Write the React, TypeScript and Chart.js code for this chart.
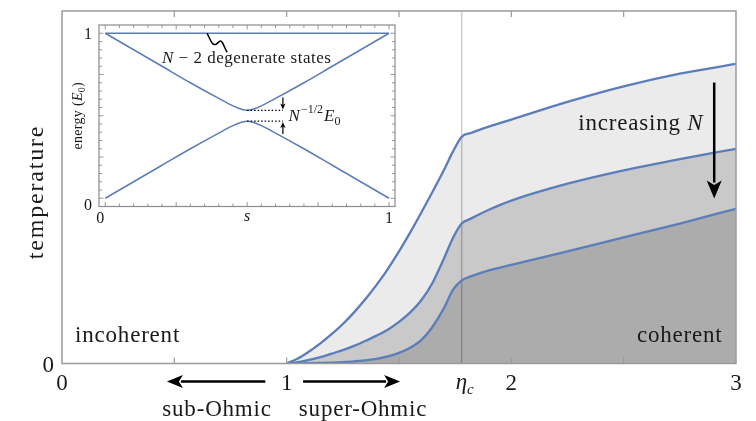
import React, { useEffect, useRef } from "react";
import { Chart, registerables } from "chart.js";
Chart.register(...registerables);

// ---------- main chart data ----------
const curveX = [1, 1.05, 1.1, 1.15, 1.2, 1.25, 1.3, 1.35, 1.4, 1.45, 1.5, 1.55, 1.6, 1.65, 1.7, 1.74, 1.779, 1.82, 1.9, 2.0, 2.25, 2.5, 2.75, 3.0];
const tempSmallN = [0, 0.014, 0.034, 0.057, 0.083, 0.112, 0.145, 0.182, 0.223, 0.268, 0.318, 0.372, 0.429, 0.488, 0.549, 0.601, 0.643, 0.654, 0.672, 0.692, 0.742, 0.786, 0.822, 0.85];
const tempMidN = [0, 0.004, 0.01, 0.018, 0.028, 0.038, 0.05, 0.064, 0.079, 0.096, 0.118, 0.145, 0.18, 0.23, 0.298, 0.356, 0.397, 0.411, 0.436, 0.462, 0.51, 0.548, 0.58, 0.609];
const tempLargeN = [0, 0.0003, 0.0008, 0.0015, 0.0025, 0.004, 0.006, 0.009, 0.013, 0.02, 0.03, 0.045, 0.067, 0.105, 0.157, 0.209, 0.236, 0.247, 0.264, 0.28, 0.318, 0.358, 0.397, 0.439];
const fillColors = ["#acacac", "#c9c9c9", "#ebebeb"];
const xTickMarks = [0.5, 1, 1.5, 2, 2.5];
const xTickLabels = ["0", "1", "2", "3"];
const xTickLabelValues = [0, 1, 2, 3];
const ETA_C = 1.779;

// ---------- inset data ----------
const insetS = [0, 0.1, 0.2, 0.3, 0.4, 0.45, 0.48, 0.5, 0.52, 0.55, 0.6, 0.7, 0.8, 0.9, 1];
const insetUpper = [1, 0.9, 0.8, 0.7, 0.605, 0.56, 0.539, 0.533, 0.539, 0.56, 0.605, 0.7, 0.8, 0.9, 1];
const insetLower = [0, 0.1, 0.2, 0.3, 0.395, 0.44, 0.461, 0.467, 0.461, 0.44, 0.395, 0.3, 0.2, 0.1, 0];
const insetFlatS = [0, 1];
const insetFlat = [1, 1];
const insetYTickLabels = ["0", "1"];
const insetXTickLabels = ["0", "1"];

const BLUE = "#5b7db9";
const SERIF = '"Liberation Serif", "Times New Roman", serif';
const TEXT = "#1a1a1a";

function font(size: number, italic = false) {
  return `${italic ? "italic " : ""}${size}px ${SERIF}`;
}

type Run = { t: string; size: number; italic?: boolean; dy?: number; gap?: number };

function drawRuns(ctx: CanvasRenderingContext2D, runs: Run[], x: number, y: number, align: "left" | "center" | "right" = "left", spacing = 0) {
  ctx.save();
  ctx.fillStyle = TEXT;
  ctx.textBaseline = "alphabetic";
  ctx.textAlign = "left";
  (ctx as any).letterSpacing = spacing + "px";
  let total = 0;
  const widths = runs.map((r) => {
    ctx.font = font(r.size, r.italic);
    const w = ctx.measureText(r.t).width + (r.gap || 0);
    total += w;
    return w;
  });
  let cx = align === "left" ? x : align === "center" ? x - total / 2 : x - total;
  runs.forEach((r, i) => {
    ctx.font = font(r.size, r.italic);
    ctx.fillText(r.t, cx, y + (r.dy || 0));
    cx += widths[i];
  });
  ctx.restore();
}

function arrow(ctx: CanvasRenderingContext2D, x1: number, y1: number, x2: number, y2: number, lw: number, headLen: number, headHalf: number) {
  const ang = Math.atan2(y2 - y1, x2 - x1);
  const c = Math.cos(ang), s = Math.sin(ang);
  const bx = x2 - headLen * c, by = y2 - headLen * s;
  ctx.save();
  ctx.strokeStyle = "#000";
  ctx.fillStyle = "#000";
  ctx.lineWidth = lw;
  ctx.beginPath();
  ctx.moveTo(x1, y1);
  ctx.lineTo(bx + 2 * c, by + 2 * s);
  ctx.stroke();
  const nx = x2 - headLen * 0.75 * c, ny = y2 - headLen * 0.75 * s;
  ctx.beginPath();
  ctx.moveTo(x2, y2);
  ctx.lineTo(bx - headHalf * s, by + headHalf * c);
  ctx.lineTo(nx, ny);
  ctx.lineTo(bx + headHalf * s, by - headHalf * c);
  ctx.closePath();
  ctx.fill();
  ctx.restore();
}

const mainDeco = {
  id: "mainDeco",
  beforeDatasetsDraw(chart: any) {
    const { ctx, chartArea: a, scales } = chart;
    const px = scales.x.getPixelForValue(ETA_C);
    ctx.save();
    ctx.strokeStyle = "rgba(0,0,0,0.2)";
    ctx.lineWidth = 1.5;
    ctx.beginPath();
    ctx.moveTo(px, a.top);
    ctx.lineTo(px, a.bottom);
    ctx.stroke();
    ctx.restore();
  },
  afterDatasetsDraw(chart: any) {
    const { ctx, chartArea: a, scales } = chart;
    const X = (v: number) => scales.x.getPixelForValue(v);
    const Y = (v: number) => scales.y.getPixelForValue(v);
    ctx.save();
    ctx.strokeStyle = "#9a9a9a";
    ctx.lineWidth = 1.5;
    ctx.strokeRect(a.left, a.top, a.right - a.left, a.bottom - a.top);
    ctx.lineWidth = 1.2;
    xTickMarks.forEach((v) => {
      const px = X(v);
      ctx.beginPath();
      ctx.moveTo(px, a.bottom);
      ctx.lineTo(px, a.bottom - 6);
      ctx.moveTo(px, a.top);
      ctx.lineTo(px, a.top + 6);
      ctx.stroke();
    });
    ctx.restore();

    xTickLabels.forEach((t, i) => {
      drawRuns(ctx, [{ t, size: 23 }], X(xTickLabelValues[i]), a.bottom + 26, "center");
    });
    drawRuns(ctx, [{ t: "0", size: 23 }], a.left - 8, Y(0) + 8, "right");
    drawRuns(ctx, [{ t: "η", size: 23, italic: true }, { t: "c", size: 15, italic: true, dy: 5 }], X(ETA_C) + 3, a.bottom + 25, "center");

    ctx.save();
    ctx.translate(35, 192);
    ctx.rotate(-Math.PI / 2);
    drawRuns(ctx, [{ t: "temperature", size: 24 }], 0, 8, "center", 1.8);
    ctx.restore();

    drawRuns(ctx, [{ t: "incoherent", size: 23 }], X(0.058), Y(0.061), "left", 0.8);
    drawRuns(ctx, [{ t: "coherent", size: 23 }], X(2.94), Y(0.061), "right", 0.8);
    drawRuns(ctx, [{ t: "increasing ", size: 23 }, { t: "N", size: 23, italic: true }], X(2.855), Y(0.662), "right", 0.8);

    arrow(ctx, X(2.903), Y(0.797), X(2.903), Y(0.468), 2.5, 18, 7.5);

    const ay = a.bottom + 18;
    arrow(ctx, X(0.905), ay, X(0.467), ay, 2.5, 16, 6.5);
    arrow(ctx, X(1.073), ay, X(1.505), ay, 2.5, 16, 6.5);
    drawRuns(ctx, [{ t: "sub-Ohmic", size: 23 }], X(0.69), a.bottom + 52, "center", 0.8);
    drawRuns(ctx, [{ t: "super-Ohmic", size: 23 }], X(1.34), a.bottom + 52, "center", 0.8);
  },
};

const insetDeco = {
  id: "insetDeco",
  afterDatasetsDraw(chart: any) {
    const { ctx, chartArea: a, scales } = chart;
    const X = (v: number) => scales.x.getPixelForValue(v);
    const Y = (v: number) => scales.y.getPixelForValue(v);
    ctx.save();
    ctx.strokeStyle = "#8c8c8c";
    ctx.lineWidth = 1.2;
    ctx.strokeRect(a.left, a.top, a.right - a.left, a.bottom - a.top);
    ctx.lineWidth = 0.9;
    for (let k = 0; k <= 20; k++) {
      const v = k / 20;
      const len = k % 5 === 0 ? 4.5 : 3;
      const px = X(v);
      const py = Y(v);
      ctx.beginPath();
      ctx.moveTo(px, a.bottom);
      ctx.lineTo(px, a.bottom - len);
      ctx.moveTo(px, a.top);
      ctx.lineTo(px, a.top + len);
      ctx.moveTo(a.left, py);
      ctx.lineTo(a.left + len, py);
      ctx.moveTo(a.right, py);
      ctx.lineTo(a.right - len, py);
      ctx.stroke();
    }
    ctx.restore();

    drawRuns(ctx, [{ t: insetYTickLabels[1], size: 16 }], a.left - 7, Y(1) + 6, "right");
    drawRuns(ctx, [{ t: insetYTickLabels[0], size: 16 }], a.left - 7, Y(0) + 12, "right");
    drawRuns(ctx, [{ t: insetXTickLabels[0], size: 16 }], X(0) - 5, a.bottom + 16, "center");
    drawRuns(ctx, [{ t: insetXTickLabels[1], size: 16 }], X(1), a.bottom + 16, "center");
    drawRuns(ctx, [{ t: "s", size: 16, italic: true }], X(0.5), a.bottom + 14, "center");

    ctx.save();
    ctx.translate(a.left - 21, (a.top + a.bottom) / 2);
    ctx.rotate(-Math.PI / 2);
    drawRuns(ctx, [
      { t: "energy (", size: 14 },
      { t: "E", size: 14, italic: true },
      { t: "0", size: 10, dy: 3 },
      { t: ")", size: 14 },
    ], 0, 4, "center", 0.3);
    ctx.restore();

    drawRuns(ctx, [
      { t: "N", size: 17, italic: true },
      { t: " − 2 degenerate states", size: 17 },
    ], X(0.2), Y(0.819), "left", 0.5);

    ctx.save();
    ctx.strokeStyle = "#000";
    ctx.lineWidth = 1.5;
    const sx = X(0.359), sy = Y(1.0);
    ctx.beginPath();
    ctx.moveTo(sx, sy);
    ctx.bezierCurveTo(sx + 3, sy + 6, sx + 5, sy + 13, sx + 9, sy + 11);
    ctx.bezierCurveTo(sx + 12, sy + 9, sx + 13, sy + 6, sx + 15, sy + 9);
    ctx.bezierCurveTo(sx + 17, sy + 12, sx + 18, sy + 16, sx + 20, sy + 19);
    ctx.stroke();
    ctx.restore();

    ctx.save();
    ctx.strokeStyle = "#000";
    ctx.lineWidth = 1.2;
    ctx.setLineDash([1.5, 2]);
    ctx.beginPath();
    ctx.moveTo(X(0.5), Y(0.533));
    ctx.lineTo(X(0.626), Y(0.533));
    ctx.moveTo(X(0.5), Y(0.467));
    ctx.lineTo(X(0.626), Y(0.467));
    ctx.stroke();
    ctx.restore();
    arrow(ctx, X(0.626), Y(0.61), X(0.626), Y(0.538), 1.2, 6, 2.6);
    arrow(ctx, X(0.626), Y(0.39), X(0.626), Y(0.462), 1.2, 6, 2.6);

    drawRuns(ctx, [
      { t: "N", size: 17, italic: true, gap: 1 },
      { t: "−1/2", size: 12, dy: -8, gap: 1 },
      { t: "E", size: 17, italic: true },
      { t: "0", size: 12, dy: 4 },
    ], X(0.646), Y(0.466), "left");
  },
};

function pts(xs: number[], ys: number[]) {
  return xs.map((x, i) => ({ x, y: ys[i] }));
}

export default function App() {
  const mainRef = useRef<HTMLCanvasElement>(null);
  const insetRef = useRef<HTMLCanvasElement>(null);

  useEffect(() => {
    const curves = [tempLargeN, tempMidN, tempSmallN];
    const main = new Chart(mainRef.current as HTMLCanvasElement, {
      type: "line",
      data: {
        datasets: curves.map((ys, i) => ({
          data: pts(curveX, ys),
          borderColor: BLUE,
          borderWidth: 2.3,
          backgroundColor: fillColors[i],
          fill: "origin",
          pointRadius: 0,
          cubicInterpolationMode: "monotone",
        })),
      } as any,
      options: {
        animation: false,
        responsive: false,
        events: [],
        layout: { padding: { left: 62, right: 20, top: 11, bottom: 57.5 } },
        scales: {
          x: { type: "linear", min: 0, max: 3, display: false },
          y: { type: "linear", min: 0, max: 1, display: false },
        },
        plugins: {
          legend: { display: false },
          tooltip: { enabled: false },
          filler: { drawTime: "beforeDatasetsDraw" },
        } as any,
      },
      plugins: [mainDeco],
    });

    const inset = new Chart(insetRef.current as HTMLCanvasElement, {
      type: "line",
      data: {
        datasets: [
          { data: pts(insetFlatS, insetFlat) },
          { data: pts(insetS, insetUpper) },
          { data: pts(insetS, insetLower) },
        ].map((d) => ({
          ...d,
          borderColor: BLUE,
          borderWidth: 1.5,
          pointRadius: 0,
          fill: false,
          cubicInterpolationMode: "monotone",
        })),
      } as any,
      options: {
        animation: false,
        responsive: false,
        events: [],
        layout: { padding: { left: 35, right: 4, top: 12, bottom: 21.5 } },
        scales: {
          x: { type: "linear", min: -0.022, max: 1.021, display: false },
          y: { type: "linear", min: -0.05, max: 1.05, display: false },
        },
        plugins: { legend: { display: false }, tooltip: { enabled: false } },
      },
      plugins: [insetDeco],
    });

    return () => {
      main.destroy();
      inset.destroy();
    };
  }, []);

  return (
    <div style={{ position: "fixed", left: 0, top: 0, width: 756, height: 421, background: "#fff" }}>
      <canvas ref={mainRef} width={756} height={421} style={{ position: "absolute", left: 0, top: 0, width: 756, height: 421 }} />
      <canvas ref={insetRef} width={335} height={215} style={{ position: "absolute", left: 64, top: 13, width: 335, height: 215 }} />
    </div>
  );
}
